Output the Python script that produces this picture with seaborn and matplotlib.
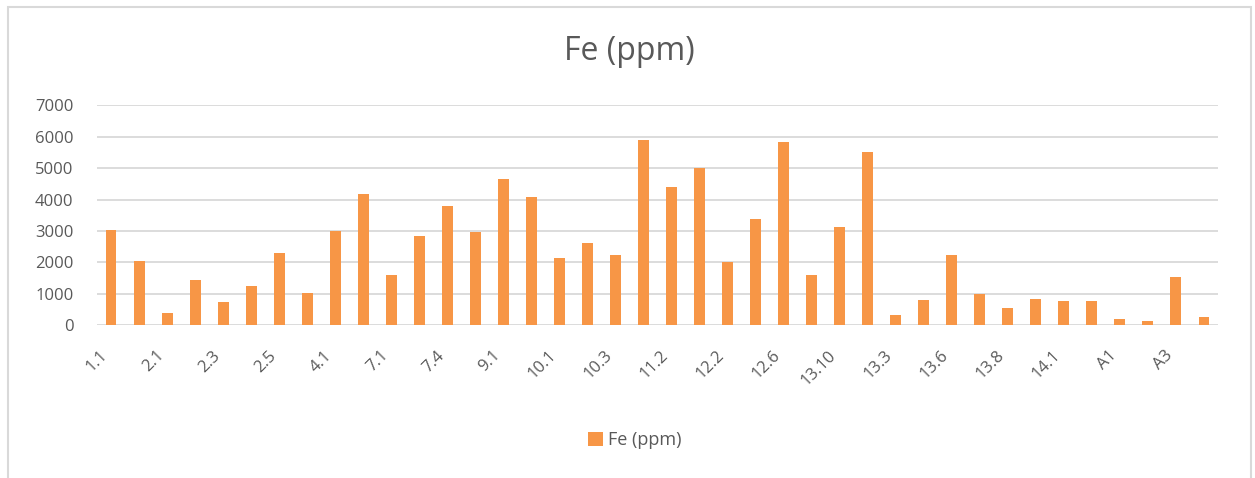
import matplotlib
matplotlib.use("Agg")
import matplotlib.pyplot as plt
from matplotlib.patches import Patch, Rectangle
import seaborn as sns
import pandas as pd

# Sample identifiers and measured iron concentrations
samples = [
    "1.1", "1.2", "2.1", "2.2", "2.3", "2.4", "2.5", "3.1", "4.1", "4.2",
    "7.1", "7.3", "7.4", "8.1", "9.1", "9.2", "10.1", "10.2", "10.3", "11.1",
    "11.2", "12.1", "12.2", "12.5", "12.6", "13.1", "13.10", "13.2", "13.3", "13.5",
    "13.6", "13.7", "13.8", "13.9", "14.1", "14.2", "A1", "A2", "A3", "A4",
]
fe_ppm = [
    3030, 2050, 390, 1440, 730, 1240, 2300, 1030, 3010, 4190,
    1590, 2840, 3790, 2970, 4640, 4080, 2150, 2610, 2250, 5890,
    4400, 4990, 2030, 3380, 5840, 1600, 3130, 5510, 320, 800,
    2240, 1000, 550, 840, 770, 770, 210, 140, 1550, 270,
]
series_name = "Fe (ppm)"
y_ticks = [0, 1000, 2000, 3000, 4000, 5000, 6000, 7000]

df = pd.DataFrame({"sample": samples, "value": fe_ppm})

BAR = "#F79646"
TEXT = "#595959"
GRID = "#D9D9D9"

sns.set_theme(style="white")
plt.rcParams["font.family"] = ["Open Sans", "DejaVu Sans"]

fig = plt.figure(figsize=(12.55, 4.78), dpi=100)
ax = fig.add_axes([97 / 1255, 1 - 325.3 / 478, (1218 - 97) / 1255, 220 / 478])

sns.barplot(data=df, x="sample", y="value", order=samples, color=BAR,
            saturation=1, width=0.39, ax=ax, linewidth=0)

ax.set_xlim(-0.5, len(samples) - 0.5)
ax.set_ylim(y_ticks[0], y_ticks[-1])
ax.set_yticks(y_ticks)
ax.set_yticklabels([str(t) for t in y_ticks])
ax.yaxis.grid(True, color=GRID, linewidth=1.3)
ax.set_axisbelow(True)
for s in ax.spines.values():
    s.set_visible(False)

# Every other sample is labelled on the category axis
ax.set_xticks(range(0, len(samples), 2))
ax.set_xticklabels(samples[::2], rotation=45, ha="right", va="top")
ax.tick_params(axis="x", length=0, pad=16, labelsize=12, colors=TEXT)
ax.tick_params(axis="y", length=0, pad=17, labelsize=12, colors=TEXT)
ax.set_xlabel("")
ax.set_ylabel("")

fig.text(629 / 1255, 1 - 52 / 478, series_name, ha="center", va="center",
         fontsize=23, color=TEXT)

handle = Patch(facecolor=BAR, edgecolor="none")
fig.legend([handle], [series_name], loc="center",
           bbox_to_anchor=(635 / 1255, 1 - 440 / 478), frameon=False,
           handlelength=0.8, handleheight=0.8, handletextpad=0.3,
           fontsize=13, labelcolor=TEXT)

# Chart-area frame
fig.patches.append(Rectangle((7.5 / 1255, -0.05), (1251 - 7.5) / 1255,
                             1.05 - 6.5 / 478, transform=fig.transFigure,
                             fill=False, edgecolor=GRID, linewidth=1.5))

fig.savefig("out.png", dpi=100, facecolor="white")
